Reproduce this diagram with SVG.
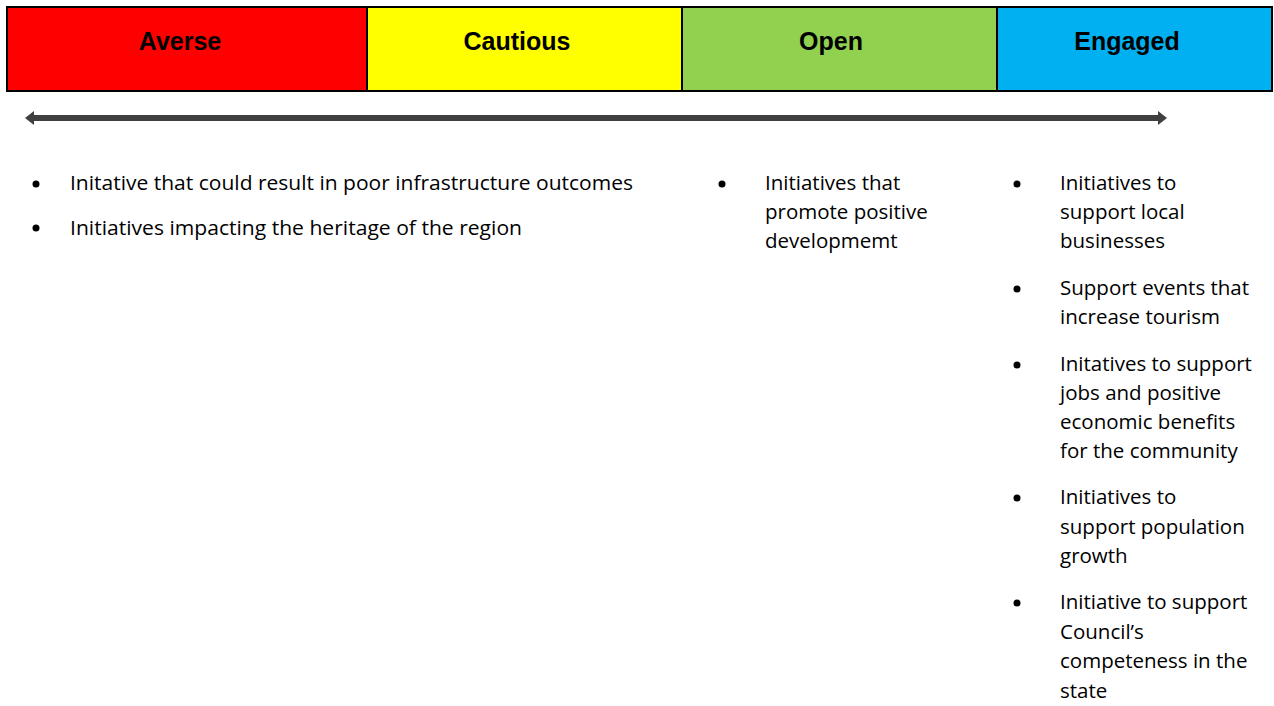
<svg xmlns="http://www.w3.org/2000/svg" width="1274" height="706" viewBox="0 0 1274 706">
<style>
.hd{font-family:"Liberation Sans",Arial,sans-serif;font-weight:bold;font-size:25px;fill:#000;text-anchor:middle}
.t{font-family:"Open Sans","Liberation Sans",sans-serif;font-size:20.5px;fill:#000}
.b{fill:#000}
</style>
<rect width="1274" height="706" fill="#fff"/>
<g id="averse"><rect x="7" y="7" width="360" height="84" fill="#ff0000" stroke="#000" stroke-width="2"/><text class="hd" x="180" y="50">Averse</text></g>
<g id="cautious"><rect x="367" y="7" width="315" height="84" fill="#ffff00" stroke="#000" stroke-width="2"/><text class="hd" x="517" y="50">Cautious</text></g>
<g id="open"><rect x="682" y="7" width="315" height="84" fill="#92d050" stroke="#000" stroke-width="2"/><text class="hd" x="831" y="50">Open</text></g>
<g id="engaged"><rect x="997" y="7" width="275" height="84" fill="#00b0f0" stroke="#000" stroke-width="2"/><text class="hd" x="1127" y="50">Engaged</text></g>
<g id="connectors">
<line x1="33" y1="118" x2="1159" y2="118" stroke="#404040" stroke-width="6"/>
<polygon points="25,118 34,111 34,125" fill="#404040"/>
<polygon points="1167,118 1158,111 1158,125" fill="#404040"/>
</g>
<g id="averse-list">
<circle class="b" cx="36" cy="184" r="3.5"/>
<text class="t" x="70" y="190" textLength="563" lengthAdjust="spacingAndGlyphs">Initative that could result in poor infrastructure outcomes</text>
<circle class="b" cx="36" cy="228" r="3.5"/>
<text class="t" x="70" y="235" textLength="452" lengthAdjust="spacingAndGlyphs">Initiatives impacting the heritage of the region</text>
</g>
<g id="open-list">
<circle class="b" cx="722" cy="184" r="3.5"/>
<text class="t" x="765" y="190">Initiatives that</text>
<text class="t" x="765" y="219">promote positive</text>
<text class="t" x="765" y="248">developmemt</text>
</g>
<g id="engaged-list">
<circle class="b" cx="1017" cy="184" r="3.5"/>
<text class="t" x="1060" y="190">Initiatives to</text>
<text class="t" x="1060" y="219">support local</text>
<text class="t" x="1060" y="248">businesses</text>
<circle class="b" cx="1017" cy="289" r="3.5"/>
<text class="t" x="1060" y="295">Support events that</text>
<text class="t" x="1060" y="324">increase tourism</text>
<circle class="b" cx="1017" cy="365" r="3.5"/>
<text class="t" x="1060" y="371">Initatives to support</text>
<text class="t" x="1060" y="400">jobs and positive</text>
<text class="t" x="1060" y="429">economic benefits</text>
<text class="t" x="1060" y="458">for the community</text>
<circle class="b" cx="1017" cy="498" r="3.5"/>
<text class="t" x="1060" y="504">Initiatives to</text>
<text class="t" x="1060" y="534">support population</text>
<text class="t" x="1060" y="563">growth</text>
<circle class="b" cx="1017" cy="603" r="3.5"/>
<text class="t" x="1060" y="609">Initiative to support</text>
<text class="t" x="1060" y="639">Council’s</text>
<text class="t" x="1060" y="668">competeness in the</text>
<text class="t" x="1060" y="698">state</text>
</g>
</svg>
